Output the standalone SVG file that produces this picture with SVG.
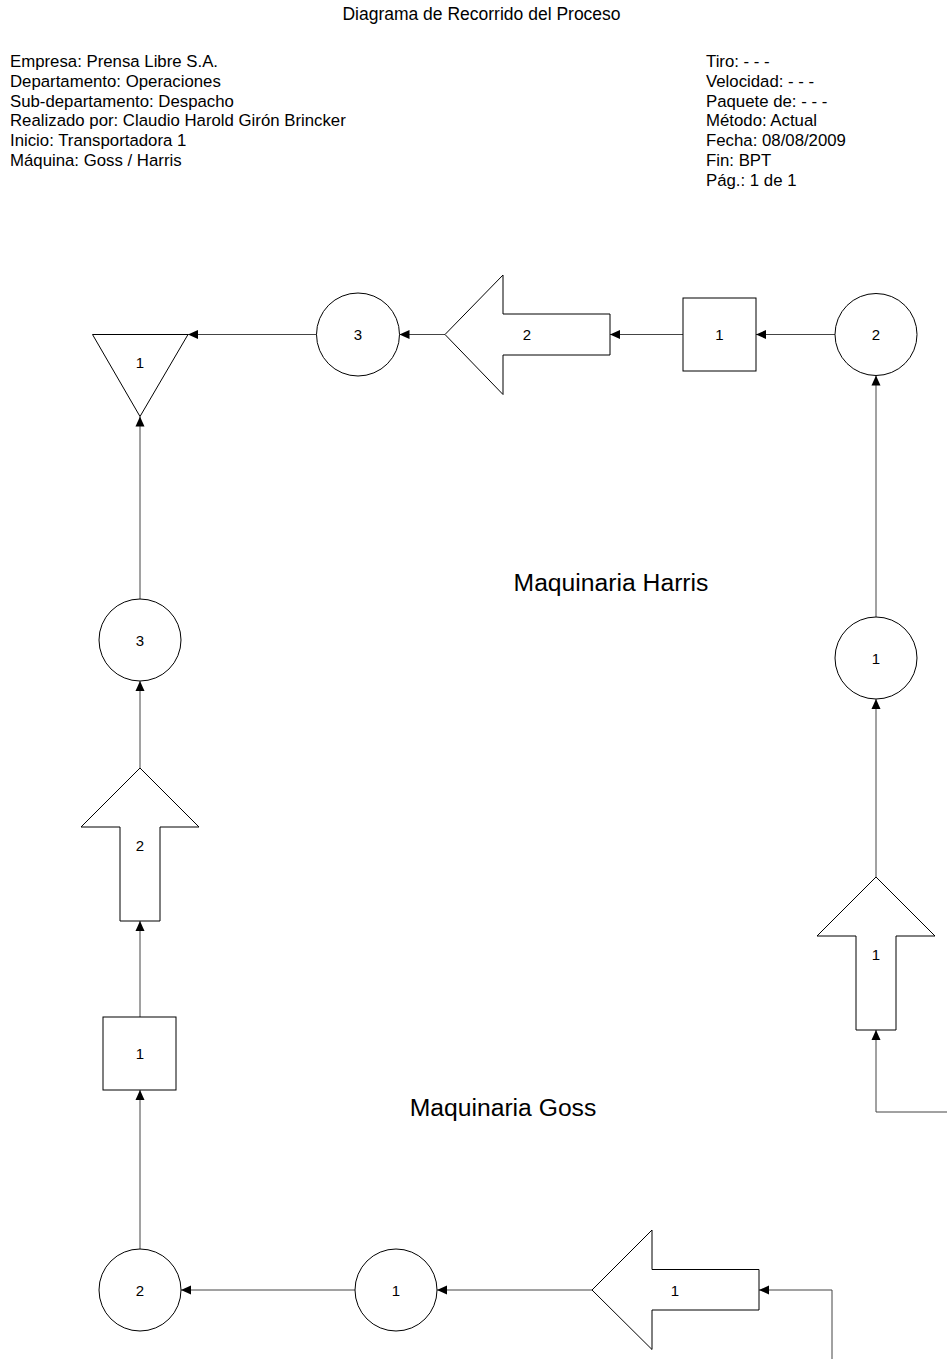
<svg xmlns="http://www.w3.org/2000/svg" width="947" height="1359" viewBox="0 0 947 1359">
<style>
.t{font-family:"Liberation Sans",Arial,sans-serif;fill:#000}
.h{font-size:16.8px}
.n{font-size:15px;text-anchor:middle;dominant-baseline:central}
.big{font-size:24.7px;text-anchor:middle}
.s{fill:#fff;stroke:#000;stroke-width:1}
.c{fill:none;stroke:#444;stroke-width:1;marker-end:url(#ah)}
</style>
<defs>
<marker id="ah" markerUnits="userSpaceOnUse" markerWidth="10" markerHeight="10" refX="10" refY="5" orient="auto">
<path d="M0,0.5 L10,5 L0,9.5 z" fill="#000"/>
</marker>
</defs>
<rect width="947" height="1359" fill="#fff"/>
<g id="header">
<text class="t" x="481.5" y="20" text-anchor="middle" font-size="17.5">Diagrama de Recorrido del Proceso</text>
<text class="t h" x="10" y="67">Empresa: Prensa Libre S.A.</text>
<text class="t h" x="10" y="86.8">Departamento: Operaciones</text>
<text class="t h" x="10" y="106.6">Sub-departamento: Despacho</text>
<text class="t h" x="10" y="126.4">Realizado por: Claudio Harold Girón Brincker</text>
<text class="t h" x="10" y="146.2">Inicio: Transportadora 1</text>
<text class="t h" x="10" y="166">Máquina: Goss / Harris</text>
<text class="t h" x="706" y="67" font-size="17.8">Tiro: - - -</text>
<text class="t h" x="706" y="86.8" font-size="17.8">Velocidad: - - -</text>
<text class="t h" x="706" y="106.6" font-size="17.8">Paquete de: - - -</text>
<text class="t h" x="706" y="126.4" font-size="17.8">Método: Actual</text>
<text class="t h" x="706" y="146.2" font-size="17.8">Fecha: 08/08/2009</text>
<text class="t h" x="706" y="166" font-size="17.8">Fin: BPT</text>
<text class="t h" x="706" y="185.8" font-size="17.8">Pág.: 1 de 1</text>
</g>
<text class="t big" x="611" y="591">Maquinaria Harris</text>
<text class="t big" x="503" y="1116">Maquinaria Goss</text>
<g id="connectors">
<line class="c" x1="140" y1="1249" x2="140" y2="1090"/>
<line class="c" x1="140" y1="1017" x2="140" y2="921"/>
<line class="c" x1="140" y1="768" x2="140" y2="681"/>
<line class="c" x1="140" y1="599" x2="140" y2="416.5"/>
<line class="c" x1="316.5" y1="334.5" x2="188" y2="334.5"/>
<line class="c" x1="445" y1="334.5" x2="399.5" y2="334.5"/>
<line class="c" x1="683" y1="334.5" x2="610" y2="334.5"/>
<line class="c" x1="835" y1="334.5" x2="756" y2="334.5"/>
<line class="c" x1="876" y1="617" x2="876" y2="375.5"/>
<line class="c" x1="876" y1="877" x2="876" y2="699"/>
<polyline class="c" points="947,1112 876,1112 876,1030"/>
<polyline class="c" points="832,1359 832,1290 759,1290"/>
<line class="c" x1="592" y1="1290" x2="437" y2="1290"/>
<line class="c" x1="355" y1="1290" x2="181" y2="1290"/>
</g>
<g id="storage1">
<polygon class="s" points="92.5,334.5 188,334.5 140,416.5"/>
<text class="t n" x="140" y="362">1</text>
</g>
<g id="delay3top">
<circle class="s" cx="358" cy="334.5" r="41.5"/>
<text class="t n" x="358" y="334.5">3</text>
</g>
<g id="transport2top">
<polygon class="s" points="445,334.5 503,275 503,314 610,314 610,355 503,355 503,394.5"/>
<text class="t n" x="527" y="334.5">2</text>
</g>
<g id="inspect1top">
<rect class="s" x="683" y="298" width="73" height="73"/>
<text class="t n" x="719.5" y="334.5">1</text>
</g>
<g id="op2right">
<circle class="s" cx="876" cy="334.5" r="41"/>
<text class="t n" x="876" y="334.5">2</text>
</g>
<g id="op1right">
<circle class="s" cx="876" cy="658" r="41"/>
<text class="t n" x="876" y="658">1</text>
</g>
<g id="transport1right">
<polygon class="s" points="876,877 935,936 896,936 896,1030 856,1030 856,936 817,936"/>
<text class="t n" x="876" y="954">1</text>
</g>
<g id="op3left">
<circle class="s" cx="140" cy="640" r="41"/>
<text class="t n" x="140" y="640">3</text>
</g>
<g id="transport2left">
<polygon class="s" points="140,768 199,827 160,827 160,921 120,921 120,827 81,827"/>
<text class="t n" x="140" y="845">2</text>
</g>
<g id="inspect1left">
<rect class="s" x="103" y="1017" width="73" height="73"/>
<text class="t n" x="140" y="1053.5">1</text>
</g>
<g id="op2bottom">
<circle class="s" cx="140" cy="1290" r="41"/>
<text class="t n" x="140" y="1290">2</text>
</g>
<g id="op1bottom">
<circle class="s" cx="396" cy="1290" r="41"/>
<text class="t n" x="396" y="1290">1</text>
</g>
<g id="transport1bottom">
<polygon class="s" points="592,1290 652,1230 652,1269.5 759,1269.5 759,1310 652,1310 652,1349.5"/>
<text class="t n" x="675" y="1290">1</text>
</g>
</svg>
